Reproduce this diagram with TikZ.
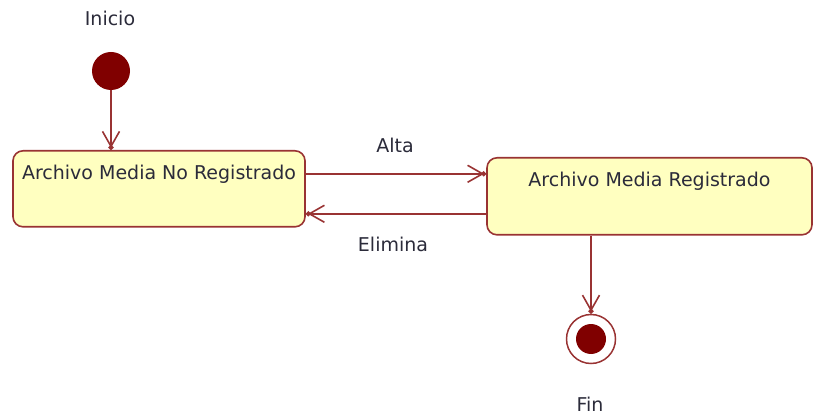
\documentclass[tikz,border=0pt]{standalone}
\usepackage{fontspec}
\setmainfont{DejaVu Sans}
\usetikzlibrary{arrows.meta}

\definecolor{dotred}{HTML}{800000}
\definecolor{edgered}{HTML}{993333}
\definecolor{boxfill}{HTML}{FFFFC0}
\definecolor{txtgray}{HTML}{2B2B3A}

\begin{document}
\begin{tikzpicture}[
    x=1pt, y=-1pt,
    every node/.style={font=\fontsize{19}{23}\selectfont, text=txtgray},
    statebox/.style={draw=edgered, fill=boxfill, line width=1.6pt,
        rounded corners=10pt, inner xsep=0pt, inner ysep=0pt, text height=29pt},
    trans/.style={draw=edgered, line width=1.6pt,
        -{Straight Barb[length=15pt,width=17pt,sep=-3pt]Circle[length=5pt]}},
]
\useasboundingbox (0,0) rectangle (813,419);

% Start and end
\node[circle, fill=dotred, minimum size=38pt, inner sep=0pt] (init) at (111,71) {};
\node at (110,18) (iniciolbl) {Inicio};
\node[circle, draw=edgered, line width=1.5pt, fill=white, minimum size=49pt, inner sep=0pt] (fin) at (591,339) {};
\fill[dotred] (fin.center) circle (15pt);
\node at (590,404) (finlbl) {Fin};

% States
\node[statebox, minimum width=292pt, text depth=47pt] (noreg) at (159,150) [anchor=north] {Archivo Media No Registrado};
\node[statebox, minimum width=325pt, text depth=48pt] (reg) at (649.5,157) [anchor=north] {Archivo Media Registrado};

% Transitions
\draw[trans] (init.south) -- (init.south |- noreg.north);
\draw[trans] ([yshift=15pt]noreg.east) -- ([yshift=15pt]noreg.east -| reg.west);
\node at (395,145) (altalbl) {Alta};
\draw[trans] ([yshift=-17.5pt]reg.west) -- ([yshift=-17.5pt]reg.west -| noreg.east);
\node at (393,244) (eliminalbl) {Elimina};
\draw[trans] (reg.south -| fin.north) -- (fin.north);

\end{tikzpicture}
\end{document}
